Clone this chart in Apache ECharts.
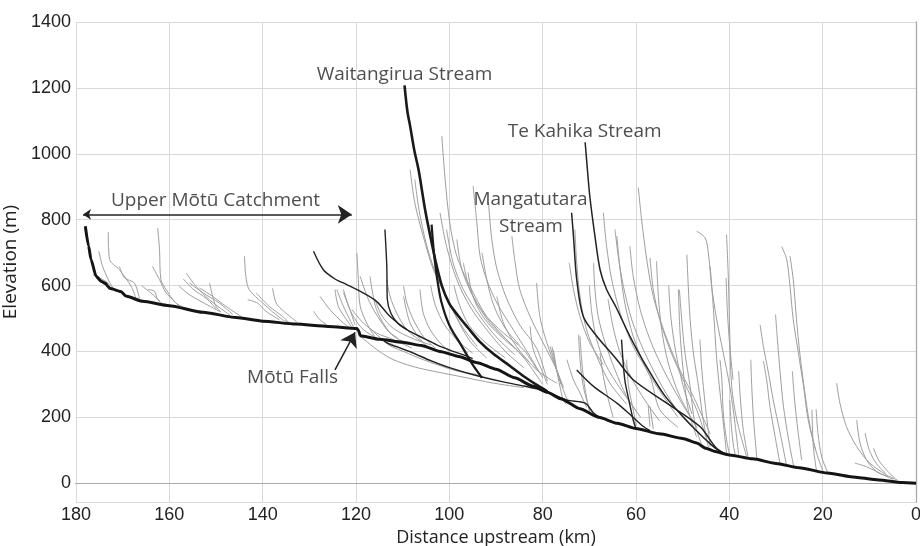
<!DOCTYPE html>
<html>
<head>
<meta charset="utf-8">
<script src="https://cdn.jsdelivr.net/npm/echarts@6/dist/echarts.min.js"></script>
<style>
html, body { margin: 0; padding: 0; background: #fff; }
#chart { width: 920px; height: 546px; }
</style>
</head>
<body>
<div id="chart"></div>
<script>
// distance upstream (km), elevation (m)
const mainStem = [[178,780],[177.3,720],[176.8,680],[175.7,628],[174.5,612],[173.6,606],[173.2,598],[172.8,592],[170.4,582],[169.3,568],[165.7,552],[160,539],[152.8,519],[145.7,503],[140,492],[132.9,483],[126,476],[119.8,470],[119.4,462],[119.1,448],[115,437],[110,428],[106,418],[102,400],[98,385],[94,366],[90,346],[86,320],[82,294],[79,276],[76,256],[72,226],[68,200],[64,182],[60,166],[55,150],[50,136],[47,122],[45,106],[43,96],[40,86],[35,74],[30,60],[25,47],[19,31],[14,20],[8,10],[3,2],[0,0]];

const waitangirua = [[109.6,1208],[109,1130],[108.4,1084],[107.5,1010],[106.6,952],[105.2,831],[104,745],[102.8,665],[101.5,595],[100,545],[98.2,510],[96,472],[93.5,430],[90.5,392],[87,356],[84,324],[81,296],[79,279]];
const teKahika = [[70.9,1035],[70.4,950],[69.9,871],[68.8,750],[67.7,648],[66.3,588],[64.3,535],[61.3,446],[58,360],[53.8,265],[48.6,182],[43.4,111],[40.6,86]];
const mangatutara = [[73.8,821],[73.4,750],[72.7,618],[71.3,506],[68.4,446],[64.1,375],[60.6,314],[53.4,243],[46.3,172],[43,110],[41,88]];
const upperTrib = [[103.8,785],[103.3,700],[102.6,620],[101.7,550],[100,480],[97.5,420],[95,360],[93,320]];

const blackTribs = [
  [[129.1,704],[127,648],[124.5,620],[122,603],[118.5,578],[115.6,552],[112.7,506],[109.1,466],[105.5,440],[102.7,420],[99.5,402],[96.3,386],[95,378]],
  [[113.8,770],[113.4,658],[113.3,560],[112.5,515],[111,485],[109.1,466]],
  [[114.5,440],[113.4,426],[110.5,410],[107.7,395],[104,372],[100.6,354],[97,338],[93.4,324],[88,306],[84,295],[80,282]],
  [[63.1,436],[62.4,314],[61.5,250],[60.6,192],[60,165]],
  [[72.7,344],[69.1,294],[64.1,243],[61,205],[58.4,172],[57,160]],
  [[80,284],[74.9,253],[70.9,243],[69.1,213],[68,202]]
];

const greyTribs = [
  // upper Motu catchment
  [[173.1,762],[172.8,679],[170.7,648],[168.2,598],[167.2,562]],
  [[175.1,704],[174.3,658],[172.9,613],[172,590]],
  [[176.4,633],[173.6,613],[172.6,598]],
  [[170.7,658],[169.6,623],[167.5,608],[166.4,560]],
  [[162.5,775],[162.1,709],[161.8,618],[160.7,588],[158.6,547],[157,535]],
  [[163.6,658],[162.1,618],[160.7,578],[157.8,537]],
  [[164.6,588],[163.2,583],[162.5,557],[161.5,545]],
  [[166,600],[164,578],[162,552]],
  [[156.4,638],[154.3,598],[151.4,557],[147,510]],
  [[155.7,608],[152.8,578],[149.3,547],[146.4,512]],
  [[153.6,593],[150.7,567],[147.9,537],[144.5,505]],
  [[151.4,608],[150.7,567],[150,537],[149,520]],
  [[157,620],[155,590],[152,560],[150,530]],
  [[158,600],[156,575],[153,550],[149,520]],
  [[143.9,689],[143.6,628],[142.9,588],[140,547],[135.7,496],[134,487]],
  [[143.2,557],[141.1,547],[139.3,522],[136.4,496]],
  [[141.4,578],[138.6,537],[135.7,506],[134.5,489]],
  [[137.9,593],[137.1,547],[135.5,522],[132.7,490]],
  [[129.1,522],[127.7,496],[126.3,481]],
  [[127.7,567],[125.6,527],[122.7,486],[121.5,474]],
  [[124.5,588],[123.8,537],[122,496],[121,475]],
  [[122.7,578],[121.3,527],[120.2,480]],
  [[124.1,588],[122.7,537],[120.6,476]],
  [[119.8,699],[119.5,618],[119.1,537],[117.7,486],[116,445]],
  // below the falls
  [[122.7,588],[121.3,527],[119.1,476],[116.3,446],[112,420],[106.3,385],[99.1,344],[93.4,324]],
  [[120.9,527],[118.4,486],[115.6,456],[112,436],[108,410]],
  [[119.1,446],[115,400],[112,375],[108,355],[104.8,344],[97.7,324],[90.6,304],[84,290]],
  [[117,470],[113,420],[109.8,400],[105.6,375],[99.1,344],[94,330]],
  [[113.4,618],[112.7,567],[111.3,517],[109.1,466],[106,430]],
  [[109.8,598],[109.1,547],[107.7,496],[105.6,446],[103,410]],
  [[106.3,588],[105.6,517],[104.1,466],[102,426],[100,400]],
  [[102.7,638],[102,567],[100.6,496],[98.5,436],[96,395]],
  [[119.1,628],[117,547],[113.4,466],[111,440]],
  [[117,628],[115.6,527],[112.7,456],[110,430]],
  [[109.8,567],[108.4,486],[105.6,426],[103,400]],
  [[116,560],[114.5,510],[112,470],[108,440],[104,420]],
  // 110-75 km
  [[108.4,952],[107.4,851],[105.6,750],[103.4,648],[100.6,567],[98,490],[95.5,430],[92,380]],
  [[107.4,922],[106.5,830],[105,730],[103,640],[100,545],[97,470],[94,415]],
  [[101.6,1054],[100.9,922],[99.9,790],[98.4,689],[95.6,598],[92,506],[88.4,446],[84,380],[80,300]],
  [[94.9,902],[94.1,790],[93.4,689],[92,618],[89.8,547],[86.3,466],[82.7,385],[80,320]],
  [[91.6,851],[90.9,740],[89.8,650],[87.7,560],[84.9,480],[81.3,410],[79,310]],
  [[86.6,750],[85.9,669],[84.9,588],[82.7,506],[79.9,426],[77,344],[76,300]],
  [[81.3,608],[80.6,506],[79.1,426],[77,344],[75.5,290]],
  [[102,821],[100.6,719],[98.4,618],[95.6,537],[92,466],[88,400],[84,350]],
  [[100.6,770],[99.2,669],[97,588],[93.4,506],[90,445],[86,390]],
  [[98.4,740],[97.3,648],[94.9,567],[91.3,486],[87,426],[83,370]],
  [[97,669],[95.6,588],[92.7,517],[88.4,456],[84.1,405],[81,340]],
  [[89.8,567],[88.4,486],[85.6,415],[81.3,344],[77,304]],
  [[82.7,476],[82,405],[80.2,344],[79,300]],
  [[78,415],[77,344],[76,300]],
  [[99,600],[97.8,540],[95.8,480],[92.5,430],[88,380]],
  [[93,700],[92,620],[90.5,540],[88,470],[85,420]],
  [[96,640],[95,570],[93,510],[90,460],[86,410]],
  [[104,600],[103,540],[101,480],[98,430],[95,395]],
  // 80-40 km
  [[77.7,405],[77,344],[76.3,294],[75.6,253],[75,240]],
  [[74.8,375],[73.4,314],[72,274],[70.6,230]],
  [[72.3,451],[72,375],[71.3,294],[69.9,220]],
  [[67.7,395],[67,324],[65.9,253],[64.9,200]],
  [[62,375],[61.6,294],[60.6,223],[60,175]],
  [[57,233],[56.3,165]],
  [[72,446],[71.6,365],[70.9,284],[69.9,215]],
  [[78.4,415],[77,344],[75.6,284],[74.5,245]],
  [[73.1,770],[72.7,669],[72,567],[70.6,466],[68.4,385],[65.6,304],[62,240]],
  [[74.3,669],[73.4,588],[72,506],[69.9,426],[67,360]],
  [[69.1,669],[68.8,588],[68.1,506],[66.6,426],[64.5,344],[62,263],[59,200]],
  [[64.1,750],[63.4,648],[62.4,547],[60.6,446],[57.7,344],[54.1,263],[51,200]],
  [[67,821],[66.3,719],[65.2,618],[63.4,517],[60.6,415],[57,324],[54.9,223],[51,170]],
  [[64.5,770],[63.8,689],[62.7,598],[60.9,496],[58.4,405],[55.2,314],[51.3,223],[48,170]],
  [[61.3,719],[60.6,628],[59.1,527],[57,436],[54.1,344],[50.6,253],[47,170]],
  [[59.5,897],[58.8,800],[57.7,679],[56.3,567],[54.1,466],[51.3,365],[47.7,263],[44.1,150]],
  [[57,684],[56.3,588],[54.9,496],[52.7,405],[49.9,314],[47,223],[45,140]],
  [[55.6,674],[55.2,567],[54.5,466],[53.1,365],[50.6,263],[47,170]],
  [[49.1,694],[48.8,598],[48.4,496],[47.7,395],[46.6,294],[45.6,192],[44.5,110]],
  [[50.7,588],[50.2,496],[49.5,395],[48.4,294],[47.4,182],[46,120]],
  [[47,765],[45.2,745],[44.5,699],[43.8,598],[42.7,496],[41.3,395],[39.9,294],[38.8,182],[38,85]],
  [[40.6,755],[40.2,618],[39.9,446],[39.5,294],[38.4,192],[36.3,81]],
  [[40.7,623],[40.4,517],[39.9,415],[39.2,314]],
  [[46.3,436],[45.9,344],[45.2,243],[44.1,110]],
  [[50.9,588],[50.6,466],[49.9,344],[48.8,223],[47,140]],
  [[44.1,658],[43.4,527],[42.7,375],[41.6,223],[40.6,91]],
  [[66,560],[65,480],[63.5,400],[61,320],[58,250],[55,190]],
  [[70,600],[69.5,520],[68.5,440],[66.5,360],[63.5,290],[60,220]],
  [[53,600],[52.5,500],[51.5,400],[50,300],[48,210]],
  [[57.4,238],[57,172]],
  // 40-0 km
  [[42,375],[41.6,314],[41.3,213],[40.6,132],[40,90]],
  [[39.9,253],[39.5,162],[38.8,91],[38,80]],
  [[35.4,375],[35.2,294],[34.8,192],[34.1,75]],
  [[33.4,481],[32.7,415],[31.6,334],[30.6,253],[29.1,152],[27.7,50]],
  [[32.7,370],[32,314],[31.3,233],[30.2,142],[29.1,55]],
  [[30.1,512],[29.7,436],[29.1,334],[28.4,233],[27.3,132],[26.2,50]],
  [[28.8,719],[27.7,679],[27,598],[26.3,496],[25.2,395],[24.1,294],[23.1,192],[21.3,91],[19.9,35]],
  [[27,689],[26.3,618],[25.6,496],[24.9,395],[23.8,274],[22.7,172],[21.5,100]],
  [[22.3,223],[22,111],[21.3,35]],
  [[21.4,225],[21,150],[20.2,80],[19,35]],
  [[26.5,340],[26,250],[25.3,160],[24.5,70]],
  [[38,340],[37.6,250],[37,160],[36,80]],
  [[17,304],[16.3,243],[14.9,172],[12.7,111],[9.9,61],[6.3,25],[4,10]],
  [[12.7,192],[12,122],[10.6,71],[8.4,35],[6,20]],
  [[10.9,152],[10,100],[8.5,60],[6.5,30]],
  [[9.1,106],[8,70],[6,35],[4.5,15]],
  [[13.1,61],[10.6,50],[7,25],[4.9,12]]
];

const labels = [
  { name: 'Waitangirua Stream', value: [109.6, 1241] },
  { name: 'Te Kahika Stream', value: [71, 1068] },
  { name: 'Mangatutara', value: [82.6, 861] },
  { name: 'Stream', value: [82.5, 779] },
  { name: 'Upper Mōtū Catchment', value: [150.1, 858] },
  { name: 'Mōtū Falls', value: [133.6, 320] }
];
const catchmentArrow = [[178.5, 816], [120.9, 816]];
const fallsArrow = [[124.5, 344], [120.2, 458]];

function riverLine(pts, color, width, z, smooth, mono) {
  return {
    type: 'line', data: pts, symbol: 'none', showSymbol: false, silent: true,
    smooth: smooth, smoothMonotone: mono,
    lineStyle: { color: color, width: width }, z: z
  };
}

const series = [];
greyTribs.forEach(t => series.push(riverLine(t, '#9e9e9e', 1, 2, 0.3)));
blackTribs.forEach(t => series.push(riverLine(t, '#222', 1.4, 3, 0.3)));
series.push(riverLine(teKahika, '#222', 1.5, 4, 0.3));
series.push(riverLine(mangatutara, '#222', 1.5, 4, 0.3));
series.push(riverLine(upperTrib, '#1a1a1a', 2.2, 4, 0.3));
series.push(riverLine(waitangirua, '#1a1a1a', 2.6, 5, 0.3));
series.push(riverLine(mainStem, '#141414', 3, 6, 0.2, 'x'));

series.push({
  type: 'lines', coordinateSystem: 'cartesian2d', silent: true, z: 7,
  symbol: ['arrow', 'arrow'], symbolSize: [8, 14],
  lineStyle: { color: '#222', width: 1.5, opacity: 1 },
  data: [{ coords: catchmentArrow }]
});
series.push({
  type: 'lines', coordinateSystem: 'cartesian2d', silent: true, z: 7,
  symbol: ['none', 'arrow'], symbolSize: [8, 14],
  lineStyle: { color: '#222', width: 1.5, opacity: 1 },
  data: [{ coords: fallsArrow }]
});
series.push({
  type: 'scatter', data: labels, symbolSize: 2, silent: true, z: 8,
  itemStyle: { color: 'transparent' },
  label: {
    show: true, position: 'inside', formatter: '{b}',
    fontFamily: 'Open Sans', fontSize: 19, color: '#222'
  }
});

const chart = echarts.init(document.getElementById('chart'), null, { renderer: 'canvas' });
chart.setOption({
  animation: false,
  backgroundColor: '#fff',
  grid: { left: 76, right: 4, top: 22, bottom: 44, containLabel: false, outerBoundsMode: 'none' },
  xAxis: [{
    type: 'value', inverse: true, min: 0, max: 180, interval: 20,
    name: 'Distance upstream (km)', nameLocation: 'middle', nameGap: 25,
    nameTextStyle: { fontFamily: 'Open Sans', fontSize: 18, color: '#222' },
    axisLine: { show: true, lineStyle: { color: '#888', width: 1.2 } },
    axisTick: { show: false },
    axisLabel: { fontFamily: 'Liberation Sans', fontSize: 18, color: '#222', margin: 4 },
    splitLine: { show: true, lineStyle: { color: '#d9d9d9', width: 1 } }
  }, {
    type: 'value', inverse: true, min: 0, max: 180, position: 'top',
    axisLine: { show: true, lineStyle: { color: '#aaa', width: 1 } },
    axisTick: { show: false }, axisLabel: { show: false }, splitLine: { show: false }
  }],
  yAxis: [{
    type: 'value', min: -57, max: 1400, splitNumber: 7,
    name: 'Elevation (m)', nameLocation: 'middle', nameGap: 50,
    nameTextStyle: { fontFamily: 'Open Sans', fontSize: 19, color: '#222' },
    axisLine: { show: true, lineStyle: { color: '#888', width: 1.2 } },
    axisTick: { show: false },
    axisLabel: {
      fontFamily: 'Liberation Sans', fontSize: 18, color: '#222', margin: 5,
      showMinLabel: false, formatter: v => (v < 0 ? '' : v)
    },
    splitLine: { show: true, lineStyle: { color: '#d9d9d9', width: 1 } }
  }, {
    type: 'value', min: -57, max: 1400, position: 'right',
    axisLine: { show: true, lineStyle: { color: '#aaa', width: 1 } },
    axisTick: { show: false }, axisLabel: { show: false }, splitLine: { show: false }
  }],
  series: series
});
</script>
</body>
</html>
